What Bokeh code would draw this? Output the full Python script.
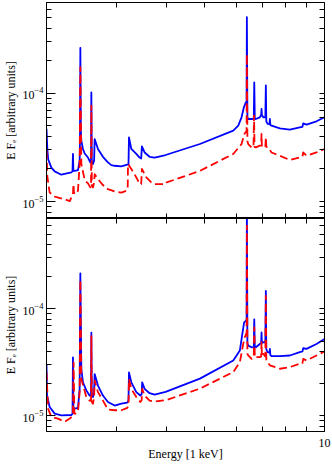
from bokeh.plotting import figure
from bokeh.layouts import column
from bokeh.models import FixedTicker, LogAxis, LinearAxis, Range1d
from bokeh.embed import file_html
from bokeh.resources import INLINE

# ---------------- data (energy [keV], E F_E [arb. units]) ----------------
top_blue = [(2.0, 4.7e-5), (2.01, 3.0e-5), (2.02, 2.45e-5), (2.057, 2.06e-5), (2.097, 1.9e-5),
            (2.179, 1.77e-5), (2.25, 1.82e-5), (2.31, 1.86e-5), (2.325, 1.9e-5), (2.331, 2.76e-5),
            (2.337, 1.92e-5), (2.354, 1.92e-5), (2.40, 1.95e-5), (2.423, 2.38e-5), (2.428, 3.5e-5),
            (2.433, 2.63e-4), (2.44, 4.5e-5), (2.447, 3.65e-5), (2.47, 3.06e-5), (2.495, 2.78e-5),
            (2.543, 2.55e-5), (2.577, 2.3e-5), (2.588, 2.3e-5), (2.593, 1.02e-4), (2.60, 2.3e-5),
            (2.617, 2.22e-5), (2.635, 2.4e-5), (2.643, 3.78e-5), (2.694, 3.06e-5), (2.773, 2.59e-5),
            (2.854, 2.3e-5), (2.911, 2.17e-5), (2.968, 2.14e-5), (3.085, 2.11e-5), (3.193, 2.19e-5),
            (3.215, 2.2e-5), (3.224, 3.91e-5), (3.268, 3.06e-5), (3.364, 2.75e-5), (3.429, 2.55e-5),
            (3.46, 2.5e-5), (3.475, 3.23e-5), (3.529, 2.84e-5), (3.633, 2.59e-5), (3.74, 2.55e-5),
            (3.986, 2.69e-5), (4.861, 3.4e-5), (5.897, 4.52e-5), (6.07, 5.02e-5), (6.186, 6.0e-5),
            (6.271, 7.42e-5), (6.343, 8.26e-5), (6.37, 8.0e-5), (6.38, 5.06e-4), (6.40, 6.0e-5),
            (6.431, 5.79e-5), (6.555, 5.79e-5), (6.64, 5.8e-5), (6.659, 1.26e-4), (6.68, 5.8e-5),
            (6.72, 5.79e-5), (6.877, 6.0e-5), (6.93, 6.3e-5), (6.945, 7.17e-5), (6.96, 6.3e-5),
            (7.015, 6.0e-5), (7.10, 6.0e-5), (7.121, 1.18e-4), (7.14, 5.5e-5), (7.192, 5.21e-5),
            (7.27, 5.2e-5), (7.289, 5.79e-5), (7.31, 5.1e-5), (7.36, 5.02e-5), (7.721, 4.74e-5),
            (8.182, 4.61e-5), (8.667, 4.84e-5), (8.80, 4.9e-5), (8.841, 5.27e-5), (9.01, 5.13e-5),
            (9.548, 5.51e-5), (10.0, 6.0e-5)]

top_red = [(2.0, 2.95e-5), (2.01, 1.7e-5), (2.037, 1.21e-5), (2.097, 1.11e-5), (2.221, 1.05e-5),
           (2.288, 1.01e-5), (2.331, 1.17e-5), (2.338, 1.45e-5), (2.345, 1.2e-5), (2.377, 1.17e-5),
           (2.40, 1.26e-5), (2.423, 2.22e-5), (2.433, 1.74e-4), (2.447, 2.22e-5), (2.495, 1.58e-5),
           (2.543, 1.47e-5), (2.577, 1.35e-5), (2.588, 1.4e-5), (2.593, 7.7e-5), (2.60, 1.4e-5),
           (2.617, 1.35e-5), (2.635, 1.5e-5), (2.643, 1.79e-5), (2.694, 1.61e-5), (2.773, 1.42e-5),
           (2.854, 1.3e-5), (2.968, 1.24e-5), (3.085, 1.21e-5), (3.176, 1.26e-5), (3.20, 1.3e-5),
           (3.206, 2.22e-5), (3.268, 2.0e-5), (3.364, 1.67e-5), (3.429, 1.45e-5), (3.46, 1.45e-5),
           (3.475, 2.0e-5), (3.565, 1.67e-5), (3.669, 1.5e-5), (3.74, 1.45e-5), (3.986, 1.45e-5),
           (4.009, 1.5e-5), (4.861, 1.92e-5), (5.897, 2.75e-5), (6.186, 3.4e-5), (6.29, 4.21e-5),
           (6.37, 4.5e-5), (6.38, 2.31e-4), (6.40, 3.6e-5), (6.431, 3.4e-5), (6.555, 3.16e-5),
           (6.63, 3.2e-5), (6.65, 6.22e-5), (6.67, 3.2e-5), (6.72, 3.16e-5), (6.877, 3.28e-5),
           (6.93, 3.3e-5), (6.945, 4.21e-5), (6.96, 3.2e-5), (7.015, 3.16e-5), (7.10, 3.2e-5),
           (7.121, 3.91e-5), (7.14, 3.2e-5), (7.22, 3.16e-5), (7.36, 2.84e-5), (7.721, 2.65e-5),
           (8.182, 2.42e-5), (8.667, 2.55e-5), (8.80, 2.6e-5), (8.841, 2.84e-5), (9.01, 2.65e-5),
           (9.548, 2.84e-5), (10.0, 3.06e-5)]

bottom_blue = [(2.0, 3.05e-5), (2.006, 1.55e-5), (2.037, 1.21e-5), (2.097, 1.05e-5), (2.179, 1.01e-5),
               (2.31, 1.02e-5), (2.325, 1.05e-5), (2.331, 3.52e-5), (2.337, 1.2e-5), (2.354, 1.17e-5),
               (2.40, 1.19e-5), (2.423, 1.79e-5), (2.433, 2.15e-4), (2.447, 2.74e-5), (2.47, 2.06e-5),
               (2.519, 1.73e-5), (2.567, 1.55e-5), (2.588, 1.55e-5), (2.593, 6.0e-5), (2.60, 1.52e-5),
               (2.617, 1.5e-5), (2.635, 1.7e-5), (2.643, 2.46e-5), (2.694, 1.92e-5), (2.773, 1.55e-5),
               (2.854, 1.35e-5), (2.968, 1.25e-5), (3.085, 1.3e-5), (3.193, 1.33e-5), (3.215, 1.4e-5),
               (3.224, 2.55e-5), (3.268, 2.06e-5), (3.364, 1.67e-5), (3.442, 1.55e-5), (3.47, 1.6e-5),
               (3.48, 2.06e-5), (3.529, 1.79e-5), (3.633, 1.63e-5), (3.74, 1.58e-5), (3.986, 1.68e-5),
               (4.861, 2.23e-5), (5.897, 3.3e-5), (6.126, 4.08e-5), (6.223, 6.03e-5), (6.28, 7.47e-5),
               (6.343, 7.74e-5), (6.37, 7.6e-5), (6.38, 9.0e-4), (6.40, 4.8e-5), (6.431, 4.54e-5),
               (6.555, 4.38e-5), (6.64, 4.4e-5), (6.659, 8.0e-5), (6.68, 4.4e-5), (6.72, 4.38e-5),
               (6.877, 4.7e-5), (6.93, 4.8e-5), (6.945, 6.03e-5), (6.96, 4.8e-5), (7.015, 4.88e-5),
               (7.10, 4.9e-5), (7.121, 1.47e-4), (7.14, 4.2e-5), (7.192, 3.94e-5), (7.27, 3.9e-5),
               (7.289, 4.23e-5), (7.31, 3.7e-5), (7.36, 3.62e-5), (7.721, 3.62e-5), (8.182, 3.67e-5),
               (8.667, 3.94e-5), (8.80, 4.0e-5), (8.841, 4.29e-5), (9.01, 4.23e-5), (9.548, 4.7e-5),
               (10.0, 5.23e-5)]

bottom_red = [(2.0, 2.55e-5), (2.018, 1.17e-5), (2.057, 9.8e-6), (2.138, 9.44e-6), (2.221, 8.8e-6),
              (2.288, 9.44e-6), (2.331, 1.01e-5), (2.340, 3.16e-5), (2.35, 1.05e-5), (2.363, 1.05e-5),
              (2.40, 1.09e-5), (2.423, 1.67e-5), (2.433, 1.87e-4), (2.447, 2.21e-5), (2.519, 1.5e-5),
              (2.567, 1.39e-5), (2.588, 1.38e-5), (2.593, 5.58e-5), (2.60, 1.35e-5), (2.617, 1.3e-5),
              (2.635, 1.5e-5), (2.643, 2.14e-5), (2.694, 1.67e-5), (2.773, 1.39e-5), (2.854, 1.15e-5),
              (2.968, 1.13e-5), (3.085, 1.13e-5), (3.193, 1.19e-5), (3.215, 1.25e-5), (3.224, 2.21e-5),
              (3.268, 1.79e-5), (3.364, 1.5e-5), (3.442, 1.35e-5), (3.47, 1.4e-5), (3.48, 1.79e-5),
              (3.529, 1.55e-5), (3.633, 1.39e-5), (3.74, 1.36e-5), (4.009, 1.41e-5), (4.861, 1.8e-5),
              (5.897, 2.57e-5), (6.126, 3.18e-5), (6.28, 5.23e-5), (6.37, 6.0e-5), (6.38, 6.0e-4),
              (6.40, 3.8e-5), (6.431, 3.67e-5), (6.555, 3.41e-5), (6.64, 3.5e-5), (6.659, 6.71e-5),
              (6.68, 3.5e-5), (6.72, 3.54e-5), (6.877, 3.54e-5), (6.93, 3.6e-5), (6.945, 4.88e-5),
              (6.96, 3.6e-5), (7.015, 3.8e-5), (7.10, 3.6e-5), (7.121, 1.32e-4), (7.14, 3.3e-5),
              (7.192, 3.18e-5), (7.289, 2.97e-5), (7.721, 2.76e-5), (8.182, 2.86e-5), (8.667, 3.07e-5),
              (8.80, 3.1e-5), (8.841, 3.41e-5), (9.01, 3.3e-5), (9.548, 3.67e-5), (10.0, 4.0e-5)]

x_limits = (2.0, 10.0)
top_y_limits = (6.97e-6, 6.9e-4)
bottom_y_limits = (7.15e-6, 7.0e-4)
x_major = [10.0]
x_minor = [3.0, 4.0, 5.0, 6.0, 7.0, 8.0, 9.0]
y_major = [1e-5, 1e-4]
y_minor = [7e-6, 8e-6, 9e-6, 2e-5, 3e-5, 4e-5, 5e-5, 6e-5, 7e-5, 8e-5, 9e-5,
           2e-4, 3e-4, 4e-4, 5e-4, 6e-4, 7e-4]
x_title = "Energy [1 keV]"
y_title = "E F\u2091 [arbitrary units]"

FONT = "Liberation Serif"
BLUE = "#0000ff"
RED = "#ff0000"


def style_axis(ax, major_in, minor_in):
    ax.major_tick_in = major_in
    ax.major_tick_out = 0
    ax.minor_tick_in = minor_in
    ax.minor_tick_out = 0
    ax.axis_line_color = "black"
    ax.major_tick_line_color = "black"
    ax.minor_tick_line_color = "black"
    ax.major_label_text_font = FONT
    ax.major_label_text_font_size = "12px"
    ax.major_label_text_color = "black"
    ax.axis_label_text_font = FONT
    ax.axis_label_text_font_size = "12px"
    ax.axis_label_text_font_style = "normal"
    ax.axis_label_text_color = "black"


def bare_axis(kind, ticks):
    # tick marks only (no labels): every tick is drawn as a minor tick
    ax = kind(ticker=FixedTicker(ticks=[], minor_ticks=ticks))
    style_axis(ax, 5, 5)
    ax.major_label_standoff = 0
    return ax


def panel(blue, red, ylim, height, bottom, x_range):
    p = figure(width=332, height=height, x_axis_type="log", y_axis_type="log",
               x_range=x_range, y_range=Range1d(*ylim),
               x_axis_location=None, y_axis_location=None,
               toolbar_location=None, output_backend="svg",
               min_border_left=45, min_border_right=8,
               min_border_top=0 if bottom else 2,
               min_border_bottom=30 if bottom else 0)
    p.grid.visible = False
    p.outline_line_color = "black"
    p.outline_line_width = 1
    p.background_fill_color = "white"
    p.border_fill_color = "white"

    left = LogAxis(ticker=FixedTicker(ticks=y_major, minor_ticks=y_minor))
    style_axis(left, 9, 5)
    left.major_label_standoff = 3
    left.axis_label = y_title
    left.axis_label_standoff = 2
    p.add_layout(left, "left")

    p.add_layout(bare_axis(LogAxis, y_major + y_minor), "right")
    p.add_layout(bare_axis(LinearAxis, x_minor), "above")

    if bottom:
        below = LinearAxis(ticker=FixedTicker(ticks=x_major, minor_ticks=x_minor))
        style_axis(below, 5, 5)
        below.major_label_standoff = 7
        below.axis_label = x_title
        below.axis_label_standoff = -3
    else:
        below = bare_axis(LinearAxis, x_minor)
    p.add_layout(below, "below")

    bx = [e for e, f in blue]
    by = [f for e, f in blue]
    rx = [e for e, f in red]
    ry = [f for e, f in red]
    p.line(bx, by, line_color=BLUE, line_width=1.8, line_join="round")
    p.line(rx, ry, line_color=RED, line_width=1.8, line_dash="8 4", line_join="round")
    return p


xr = Range1d(*x_limits)
p_top = panel(top_blue, top_red, top_y_limits, 218, False, xr)
p_bot = panel(bottom_blue, bottom_red, bottom_y_limits, 245, True, xr)

layout = column(p_top, p_bot, spacing=0)
open("out.html", "w").write(file_html(layout, INLINE))
